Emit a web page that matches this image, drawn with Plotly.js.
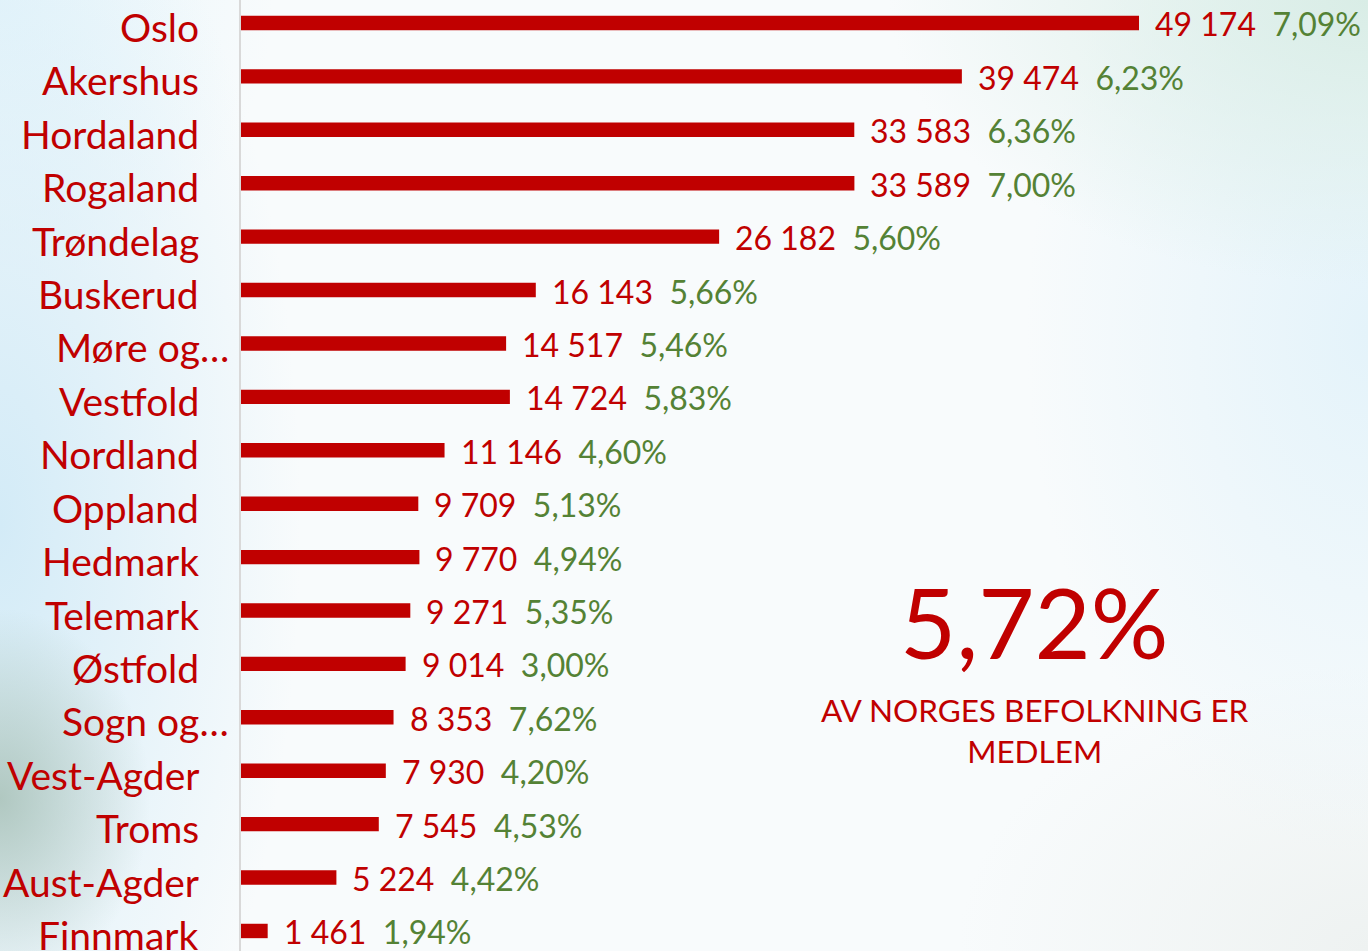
<!DOCTYPE html>
<html>
<head>
<meta charset="utf-8">
<script src="https://cdn.plot.ly/plotly-3.0.1.min.js"></script>
<style>
html, body { margin:0; padding:0; width:1368px; height:951px; overflow:hidden; }
body {
  background-color:#f8fbfc;
  background-image:
    radial-gradient(ellipse 11% 20% at 0% 84%, rgba(160,186,174,0.75), rgba(160,186,174,0) 100%),
    radial-gradient(ellipse 22% 75% at 0% 55%, #d3ebf7, rgba(211,235,247,0) 100%),
    radial-gradient(ellipse 20% 30% at 0% 0%, #e6f5fb, rgba(230,245,251,0) 100%),
    radial-gradient(ellipse 35% 30% at 100% 0%, #d9ede6, rgba(217,237,230,0) 100%),
    radial-gradient(ellipse 25% 55% at 100% 35%, #e4f3fa, rgba(228,243,250,0) 100%),
    radial-gradient(ellipse 30% 30% at 100% 100%, #eef2f1, rgba(238,242,241,0) 100%);
}
#chart { width:1368px; height:951px; }
</style>
</head>
<body>
<div id="chart"></div>
<script>
const categories = ["Oslo","Akershus","Hordaland","Rogaland","Trøndelag","Buskerud","Møre og…","Vestfold","Nordland","Oppland","Hedmark","Telemark","Østfold","Sogn og…","Vest-Agder","Troms","Aust-Agder","Finnmark"];
const members = [49174,39474,33583,33589,26182,16143,14517,14724,11146,9709,9770,9271,9014,8353,7930,7545,5224,1461];
const shares = [7.09,6.23,6.36,7.00,5.60,5.66,5.46,5.83,4.60,5.13,4.94,5.35,3.00,7.62,4.20,4.53,4.42,1.94];
const bigValue = "5,72%";
const bigCaption = "AV NORGES BEFOLKNING ER<br>MEDLEM";

const RED = "#C00000", GREEN = "#548235", FONT = "Lato, 'Open Sans', sans-serif";
const fmtNum = v => String(v).replace(/\B(?=(\d{3})+(?!\d))/g, "\u00a0");
const fmtPct = v => v.toFixed(2).replace(".", ",") + "%";

const annotations = [];
categories.forEach((c, i) => {
  annotations.push({
    xref: "paper", yref: "y", x: 0, y: c, xanchor: "right", yanchor: "middle",
    xshift: c.endsWith("…") ? -10 : -40, yshift: -4,
    text: c, showarrow: false, font: {family: FONT, size: 39, color: RED}
  });
  annotations.push({
    xref: "x", yref: "y", x: members[i], y: c, xanchor: "left", yanchor: "middle",
    xshift: 14, yshift: -1,
    text: '<span style="color:' + RED + '">' + fmtNum(members[i]) + '</span>\u00a0\u00a0<span style="color:' + GREEN + '">' + fmtPct(shares[i]) + '</span>',
    showarrow: false, font: {family: FONT, size: 32, color: RED}
  });
});
annotations.push({
  xref: "paper", yref: "paper", x: 0.7045, y: 0.346, xanchor: "center", yanchor: "middle",
  text: bigValue, showarrow: false, font: {family: FONT, size: 97, color: RED}
});
annotations.push({
  xref: "paper", yref: "paper", x: 0.7045, y: 0.232, xanchor: "center", yanchor: "middle",
  text: bigCaption, showarrow: false, font: {family: FONT, size: 31.5, color: RED}
});

const trace = {
  type: "bar", orientation: "h", x: members, y: categories,
  marker: {color: RED}, width: 0.27, hoverinfo: "x+y"
};

const layout = {
  width: 1368, height: 951,
  margin: {l: 241, r: 0, t: 0, b: 0},
  paper_bgcolor: "rgba(0,0,0,0)", plot_bgcolor: "rgba(0,0,0,0)",
  showlegend: false,
  xaxis: {range: [0, 61713], showgrid: false, zeroline: false, showticklabels: false, showline: false, fixedrange: true},
  yaxis: {type: "category", range: [17.375, -0.43], showgrid: false, zeroline: false, showticklabels: false,
          showline: true, linecolor: "#d9d9d9", linewidth: 2, fixedrange: true},
  annotations: annotations
};

Plotly.newPlot("chart", [trace], layout, {displayModeBar: false, staticPlot: true});
</script>
</body>
</html>
